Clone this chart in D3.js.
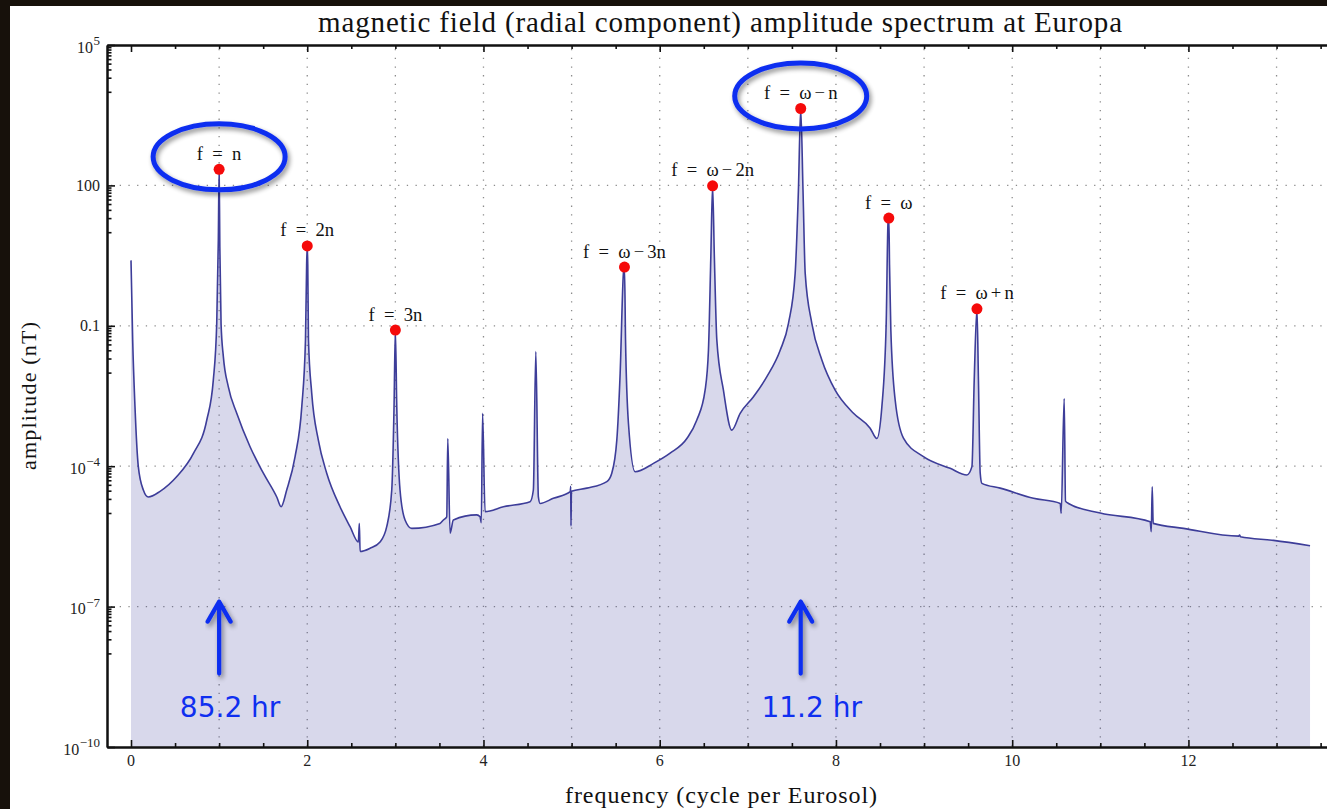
<!DOCTYPE html>
<html>
<head>
<meta charset="utf-8">
<script src="https://cdn.jsdelivr.net/npm/d3@7"></script>
<style>
  html, body { margin: 0; padding: 0; background: #fff; overflow: hidden; scrollbar-width: none; }
  ::-webkit-scrollbar { display: none; width: 0; height: 0; }
  svg { display: block; }
</style>
</head>
<body>
<script>
// Radial magnetic field amplitude spectrum at Europa (log amplitude vs frequency)

// Spectrum samples: frequency (cycle per Eurosol) and amplitude (nT)
const freq = [
  0, 0.019, 0.045, 0.083, 0.14, 0.196, 0.33, 0.52, 0.71, 0.86, 0.934, 0.973, 0.991, 1.0,
  1.008, 1.022, 1.048, 1.104, 1.2, 1.351, 1.502, 1.654, 1.703,
  1.767, 1.862, 1.938, 1.98, 1.993, 2.0, 2.006, 2.014, 2.051, 2.126, 2.221, 2.372, 2.486,
  2.58, 2.591, 2.6, 2.713, 2.826, 2.902, 2.959, 2.985, 3.0, 3.016, 3.053, 3.11, 3.186,
  3.507, 3.545, 3.583, 3.595, 3.621, 3.658, 3.924, 3.961, 3.975, 3.99, 4.018, 4.226,
  4.529, 4.566, 4.594, 4.623, 4.642, 4.793, 4.985, 4.99, 4.993, 4.998, 5.173, 5.4, 5.456,
  5.513, 5.551, 5.588, 5.6, 5.612, 5.645, 5.721, 5.929, 6.118, 6.308, 6.421, 6.515, 6.553,
  6.58, 6.6, 6.62, 6.648, 6.723, 6.818, 6.913, 7.064, 7.216, 7.367, 7.461, 7.537, 7.574,
  7.6, 7.626, 7.651, 7.726, 7.84, 7.991, 8.199, 8.388, 8.464, 8.521, 8.57, 8.592, 8.6,
  8.608, 8.623, 8.672, 8.766, 8.993, 9.296, 9.486, 9.543, 9.569, 9.6, 9.617, 9.637, 9.656,
  9.864, 10.242, 10.545, 10.556, 10.59, 10.605, 10.639, 10.999, 11.566, 11.578, 11.589,
  11.6, 11.944, 12.57, 12.58, 12.59, 12.966, 13.38
];
const amp = [
  2.5, 5.0e-2, 1.9e-3, 9.8e-5, 3.1e-5, 2.2e-5, 2.9e-5, 6.0e-5, 1.9e-4, 9.7e-4, 6.9e-3, 1.15e-1, 6.8, 220,
  5.0, 1.1e-1, 2.2e-2, 5.0e-3, 1.35e-3, 2.6e-4, 7.1e-5, 2.2e-5, 1.36e-5,
  3.1e-5, 1.6e-4, 1.87e-3, 5.0e-2, 2.0, 5.1, 2.0, 5.0e-2, 3.6e-3, 3.6e-4, 7.1e-5, 1.36e-5, 5.1e-6,
  2.4e-6, 6.0e-6, 1.5e-6, 1.76e-6, 2.4e-6, 5.1e-6, 3.1e-5, 1.87e-3, 0.081, 1.87e-3, 3.1e-5, 7.1e-6, 4.7e-6,
  6.0e-6, 7.1e-6, 8.3e-6, 3.9e-4, 3.7e-6, 7.1e-6, 9.1e-6, 8.3e-6, 6.2e-6, 1.35e-3, 1.07e-5, 1.36e-5,
  1.74e-5, 3.1e-5, 2.8e-2, 2.2e-5, 1.6e-5, 2.06e-5, 2.85e-5, 3.7e-5, 5.3e-6, 2.9e-5, 3.4e-5, 4.7e-5, 7.1e-5,
  3.6e-4, 9.7e-3, 1.32, 1.8, 5.0e-2, 8.3e-4, 7.6e-5, 1.15e-4, 1.9e-4, 3.9e-4, 9.7e-4, 4.2e-3, 3.0e-2,
  3.0, 98, 3.0, 5.0e-2, 4.2e-3, 5.9e-4, 1.35e-3, 3.05e-3, 8.2e-3, 3.0e-2, 1.13e-1, 1.32, 80,
  4400, 80, 1.32, 1.13e-1, 1.86e-2, 4.2e-3, 1.35e-3, 6.5e-4, 3.9e-4, 1.87e-3, 1.13e-1, 18, 20,
  2.0, 8.0e-2, 2.6e-3, 4.0e-4, 1.6e-4, 9.0e-5, 6.5e-5, 9.8e-5, 6.9e-3, 0.23, 6.9e-3, 7.1e-5, 4.3e-5,
  3.4e-5, 2.06e-5, 1.6e-5, 9.9e-6, 2.8e-3, 1.8e-5, 1.6e-5, 1.0e-5, 6.5e-6, 4.0e-6, 3.65e-5,
  6.0e-6, 4.7e-6, 3.2e-6, 3.4e-6, 3.1e-6, 2.6e-6, 2.0e-6
];

// Labelled spectral lines (red dots)
const peakFreq = [1, 2, 3, 5.6, 6.6, 7.6, 8.6, 9.6];
const peakAmp = [220, 5.1, 0.081, 1.8, 98, 4400, 20, 0.23];
const peakLabels = ["f = n", "f = 2n", "f = 3n", "f = ω−3n", "f = ω−2n", "f = ω−n", "f = ω", "f = ω+n"];

// Highlighted lines with their periods
const circledFreq = [1, 7.6];
const circledAmp = [220, 4400];
const periodLabels = ["85.2 hr", "11.2 hr"];

// Axis ticks
const xTicks = [0, 2, 4, 6, 8, 10, 12];
const xMinorTicks = d3.range(0, 13.51, 0.5);
const xGrid = d3.range(1, 14, 1);
const yTicks = [1e-10, 1e-7, 1e-4, 0.1, 100, 1e5];
const yTickBase = ["10", "10", "10", "0.1", "100", "10"];
const yTickExp = ["−10", "−7", "−4", "", "", "5"];
const yGrid = [1e-7, 1e-4, 0.1, 100];

const W = 1327, H = 809;
const pL = 107, pT = 45, pB = 747, pR = 1340;

const svg = d3.select("body").append("svg").attr("width", W).attr("height", H);

// dark surround and white panel
svg.append("rect").attr("width", W).attr("height", H).attr("fill", "#17110b");
svg.append("rect").attr("x", 10).attr("y", 6).attr("width", W).attr("height", H).attr("fill", "#fff");

const defs = svg.append("defs");
defs.append("clipPath").attr("id", "plotClip")
  .append("rect").attr("x", pL).attr("y", pT).attr("width", pR - pL).attr("height", pB - pT);
const shadow = defs.append("filter").attr("id", "shadow")
  .attr("x", "-20%").attr("y", "-30%").attr("width", "150%").attr("height", "170%");
shadow.append("feGaussianBlur").attr("in", "SourceAlpha").attr("stdDeviation", 2.5).attr("result", "b");
shadow.append("feOffset").attr("in", "b").attr("dx", 2).attr("dy", 3).attr("result", "o");
shadow.append("feComponentTransfer").attr("in", "o").attr("result", "s")
  .append("feFuncA").attr("type", "linear").attr("slope", 0.45);
const merge = shadow.append("feMerge");
merge.append("feMergeNode").attr("in", "s");
merge.append("feMergeNode").attr("in", "SourceGraphic");

const x = d3.scaleLinear().domain([-0.2724, 13.72]).range([pL, pR]);
const y = d3.scaleLog().domain([1e-10, 1e5]).range([pB, pT]);

const serif = "'Liberation Serif', 'Times New Roman', serif";

// grid
const grid = svg.append("g").attr("clip-path", "url(#plotClip)")
  .attr("stroke", "#8c8c8c").attr("stroke-width", 1.3).attr("stroke-dasharray", "1.3,7.4");
grid.selectAll("line.gx").data(xGrid).join("line").attr("class", "gx")
  .attr("x1", d => x(d)).attr("x2", d => x(d)).attr("y1", pT + 4).attr("y2", pB);
grid.selectAll("line.gy").data(yGrid).join("line").attr("class", "gy")
  .attr("x1", pL + 4).attr("x2", pR).attr("y1", d => y(d)).attr("y2", d => y(d));

// spectrum
const pts = freq.map((f, i) => ({ f, a: amp[i] }));
const plot = svg.append("g").attr("clip-path", "url(#plotClip)");
plot.append("path").datum(pts)
  .attr("d", d3.area().curve(d3.curveMonotoneX).x(d => x(d.f)).y0(y(1e-10)).y1(d => y(d.a)))
  .attr("fill", "#3d3d99").attr("fill-opacity", 0.2);
plot.append("path").datum(pts)
  .attr("d", d3.line().curve(d3.curveMonotoneX).x(d => x(d.f)).y(d => y(d.a)))
  .attr("fill", "none").attr("stroke", "#3d3d99").attr("stroke-width", 1.6).attr("stroke-linejoin", "round");

// axes
function styleAxis(g) {
  g.select(".domain").attr("stroke", "#111").attr("stroke-width", 2);
  g.selectAll(".tick line").attr("stroke", "#111").attr("stroke-width", 1.6);
  g.selectAll(".tick text").remove();
}
const majorX = xMinorTicks.filter(d => d % 2 === 0);
const minorX = xMinorTicks.filter(d => d % 2 !== 0);
svg.append("g").attr("transform", `translate(0,${pB})`)
  .call(d3.axisBottom(x).tickValues(minorX).tickSize(-4).tickSizeOuter(0).tickFormat("")).call(styleAxis);
svg.append("g").attr("transform", `translate(0,${pB})`)
  .call(d3.axisBottom(x).tickValues(majorX).tickSize(-7).tickSizeOuter(0).tickFormat("")).call(styleAxis);
svg.append("g").attr("transform", `translate(0,${pT})`)
  .call(d3.axisTop(x).tickValues(minorX).tickSize(-4).tickSizeOuter(0).tickFormat("")).call(styleAxis);
svg.append("g").attr("transform", `translate(0,${pT})`)
  .call(d3.axisTop(x).tickValues(majorX).tickSize(-7).tickSizeOuter(0).tickFormat("")).call(styleAxis);

const yMinor = [];
yTicks.slice(1).forEach(t => { for (let k = 1; k <= 9; k++) yMinor.push(t / 10 * k); });
svg.append("g").attr("transform", `translate(${pL},0)`)
  .call(d3.axisLeft(y).tickValues(yMinor).tickSize(-4.5).tickSizeOuter(0).tickFormat("")).call(styleAxis);
svg.append("g").attr("transform", `translate(${pL},0)`)
  .call(d3.axisLeft(y).tickValues(yTicks).tickSize(-8).tickSizeOuter(0).tickFormat("")).call(styleAxis);

// tick labels
svg.append("g").selectAll("text").data(xTicks).join("text")
  .attr("x", d => x(d)).attr("y", pB + 19)
  .attr("text-anchor", "middle").attr("font-family", serif).attr("font-size", 16).attr("fill", "#222")
  .text(d => d);

const yl = svg.append("g").selectAll("text").data(yTicks).join("text")
  .attr("x", 100).attr("y", (d, i) => y(d) + (yTickExp[i] ? 7.5 : 5.5))
  .attr("text-anchor", "end").attr("font-family", serif).attr("font-size", 16).attr("fill", "#222");
yl.append("tspan").text((d, i) => yTickBase[i]);
yl.append("tspan").attr("font-size", 13).attr("dy", -7.5).attr("dx", 0.5)
  .text((d, i) => yTickExp[i]);

// titles
svg.append("text").attr("x", 720).attr("y", 32).attr("text-anchor", "middle")
  .attr("font-family", serif).attr("font-size", 29).attr("fill", "#111")
  .attr("textLength", 804).attr("lengthAdjust", "spacing")
  .text("magnetic field (radial component) amplitude spectrum at Europa");
svg.append("text").attr("x", 721).attr("y", 803).attr("text-anchor", "middle")
  .attr("font-family", serif).attr("font-size", 24).attr("fill", "#111")
  .attr("textLength", 312).attr("lengthAdjust", "spacing")
  .text("frequency (cycle per Eurosol)");
svg.append("text").attr("transform", "translate(36,396) rotate(-90)").attr("text-anchor", "middle")
  .attr("font-family", serif).attr("font-size", 22).attr("fill", "#111")
  .attr("textLength", 148).attr("lengthAdjust", "spacing")
  .text("amplitude (nT)");

// labelled lines
const spaced = s => s.replace(" = ", "\u2002=\u2002").replace("−", "\u2006−\u2006").replace("+", "\u2006+\u2006");
const pk = svg.append("g");
pk.selectAll("circle").data(peakFreq).join("circle")
  .attr("cx", d => x(d)).attr("cy", (d, i) => y(peakAmp[i])).attr("r", 5.5).attr("fill", "#f50a0a");
pk.selectAll("text").data(peakFreq).join("text")
  .attr("x", d => x(d)).attr("y", (d, i) => y(peakAmp[i]) - 9.5)
  .attr("text-anchor", "middle").attr("font-family", serif).attr("font-size", 18.6).attr("fill", "#111")
  .text((d, i) => spaced(peakLabels[i]));

// highlight rings, arrows and periods
const blue = "#0f2ff0";
const ann = svg.append("g");
ann.selectAll("ellipse").data(circledFreq).join("ellipse")
  .attr("cx", d => x(d)).attr("cy", (d, i) => y(circledAmp[i]) - 12.5)
  .attr("rx", 66).attr("ry", 33)
  .attr("fill", "none").attr("stroke", blue).attr("stroke-width", 5).attr("filter", "url(#shadow)");
const tipY = y(1e-7) - 5;
ann.selectAll("path.arrow").data(circledFreq).join("path").attr("class", "arrow")
  .attr("d", d => {
    const cx = x(d);
    return `M${cx},${tipY + 72}L${cx},${tipY}M${cx - 11.5},${tipY + 20}L${cx},${tipY}L${cx + 11.5},${tipY + 20}`;
  })
  .attr("fill", "none").attr("stroke", blue).attr("stroke-width", 4.2)
  .attr("stroke-linecap", "round").attr("stroke-linejoin", "round").attr("filter", "url(#shadow)");
ann.selectAll("text").data(circledFreq).join("text")
  .attr("x", d => x(d) + 11).attr("y", 717)
  .attr("text-anchor", "middle").attr("font-family", "'DejaVu Sans', Verdana, sans-serif")
  .attr("font-size", 28).attr("fill", blue)
  .text((d, i) => periodLabels[i]);
</script>
</body>
</html>
